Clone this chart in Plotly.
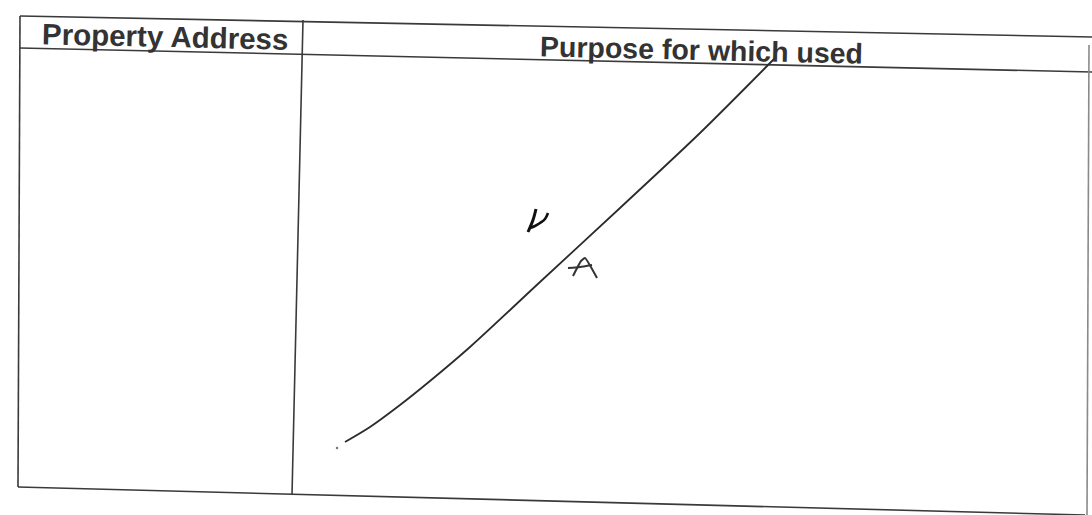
import plotly.graph_objects as go

# window size of the scanned form (pixels)
W, H = 1092, 515

# ruled lines of the form: (x0, y0, x1, y1), y counted from the top
line_names = ["top", "header", "bottom", "left", "divider", "right"]
line_x0 = [20, 20, 18, 20, 303, 1089]
line_y0 = [16, 48, 487, 16, 20, 45]
line_x1 = [1092, 1092, 1085, 18, 292, 1087]
line_y1 = [37, 72, 515, 487, 495, 515]
line_colors = ["#3a3a3a"] * 5 + ["#8a8a8a"]

# column headings
headings = ["Property Address", "Purpose for which used"]
heading_x = [165, 701]
heading_y = [36, 50]
heading_size = [29.5, 28.5]

# hand-drawn "N/A" strike through the empty column
slash_x = [775, 700, 620, 540, 470, 430, 400, 370, 345]
slash_y = [58, 133, 208, 282, 347, 381, 405, 427, 442]
dot_x = [337]
dot_y = [448]
n_stem_x = [536, 533, 528]
n_stem_y = [209, 220, 232]
n_arm_x = [530, 535, 540, 545, 548]
n_arm_y = [228, 226, 223, 219, 213]
a_x = [573, 581, 585, 597, None, 568, 580, 592]
a_y = [276, 261, 258, 278, None, 268, 267, 265]

ink = "#2b2b2b"

fig = go.Figure()

for x0, y0, x1, y1, c in zip(line_x0, line_y0, line_x1, line_y1, line_colors):
    fig.add_trace(go.Scatter(x=[x0, x1], y=[y0, y1], mode="lines",
                             line=dict(color=c, width=1.6),
                             hoverinfo="skip", showlegend=False))

# pen strokes
fig.add_trace(go.Scatter(x=slash_x, y=slash_y, mode="lines",
                         line=dict(color=ink, width=1.8, shape="spline", smoothing=0.8),
                         hoverinfo="skip", showlegend=False))
fig.add_trace(go.Scatter(x=dot_x, y=dot_y, mode="markers",
                         marker=dict(color="#777", size=2.5),
                         hoverinfo="skip", showlegend=False))
fig.add_trace(go.Scatter(x=n_stem_x, y=n_stem_y, mode="lines",
                         line=dict(color="#111", width=3, shape="spline"),
                         hoverinfo="skip", showlegend=False))
fig.add_trace(go.Scatter(x=n_arm_x, y=n_arm_y, mode="lines",
                         line=dict(color="#111", width=2.6, shape="spline"),
                         hoverinfo="skip", showlegend=False))
fig.add_trace(go.Scatter(x=a_x, y=a_y, mode="lines",
                         line=dict(color="#333", width=2, shape="spline", smoothing=0.4),
                         hoverinfo="skip", showlegend=False))

for txt, x, y, size in zip(headings, heading_x, heading_y, heading_size):
    fig.add_annotation(x=x, y=y, text="<b>" + txt + "</b>", showarrow=False,
                       textangle=1.3, xanchor="center", yanchor="middle",
                       font=dict(family="Liberation Sans, Arial", size=size, color="#333"))

fig.update_xaxes(range=[0, W], visible=False, fixedrange=True)
fig.update_yaxes(range=[H, 0], visible=False, fixedrange=True)
fig.update_layout(width=W, height=H, margin=dict(l=0, r=0, t=0, b=0),
                  paper_bgcolor="white", plot_bgcolor="white")

# drop the default page margin so the figure fills the window exactly
fig.write_html("out.html", config={"displayModeBar": False},
               post_script="document.body.style.margin='0';")
